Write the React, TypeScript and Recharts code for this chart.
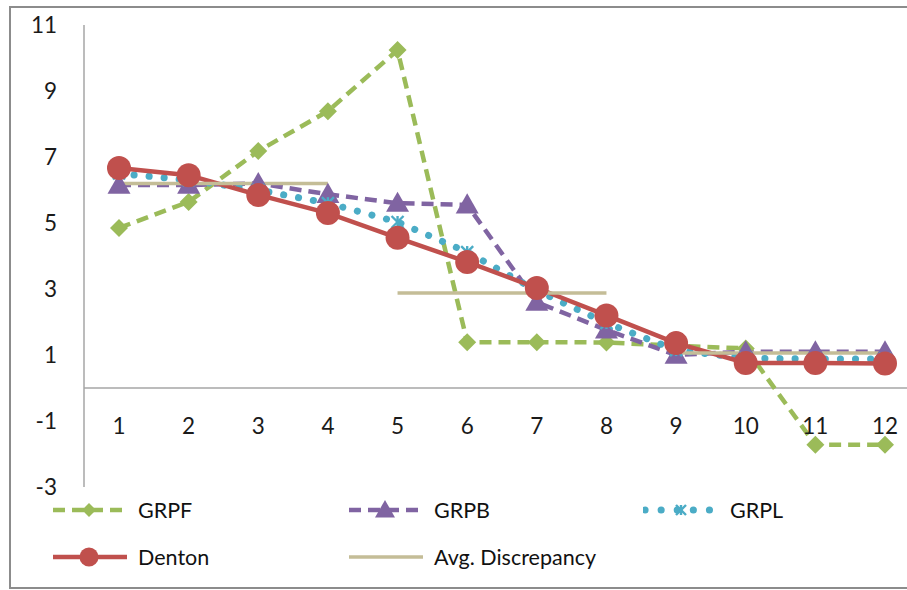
import React from 'react';
import { LineChart, Line, XAxis, YAxis, ReferenceLine } from 'recharts';

const periods = ['1', '2', '3', '4', '5', '6', '7', '8', '9', '10', '11', '12'];
const grpf = [4.85, 5.64, 7.18, 8.39, 10.24, 1.39, 1.39, 1.38, 1.28, 1.2, -1.72, -1.72];
const grpb = [6.15, 6.15, 6.2, 5.87, 5.6, 5.55, 2.6, 1.76, 1.0, 1.1, 1.1, 1.1];
const grpl = [6.5, 6.3, 6.0, 5.6, 5.03, 4.12, 2.95, 1.97, 1.15, 0.9, 0.88, 0.88];
const denton = [6.67, 6.45, 5.85, 5.3, 4.55, 3.82, 3.03, 2.2, 1.36, 0.76, 0.76, 0.74];
const avgDiscrepancy = [6.2, 6.2, 6.2, 6.2, 2.88, 2.88, 2.88, 2.88, 1.06, 1.06, 1.06, 1.06];
const avgBlock = [0, 0, 0, 0, 1, 1, 1, 1, 2, 2, 2, 2];
const yTicks = [-3, -1, 1, 3, 5, 7, 9, 11];

const FONT = 'Lato, "Open Sans", sans-serif';
const GREEN = '#9BBB59';
const PURPLE = '#8064A2';
const CYAN = '#4BACC6';
const RED = '#C0504D';
const TAN = '#C4BD97';

const data = periods.map((p, i) => ({
  period: p,
  grpf: grpf[i],
  grpb: grpb[i],
  grpl: grpl[i],
  denton: denton[i],
  avg0: avgBlock[i] === 0 ? avgDiscrepancy[i] : null,
  avg1: avgBlock[i] === 1 ? avgDiscrepancy[i] : null,
  avg2: avgBlock[i] === 2 ? avgDiscrepancy[i] : null,
}));

function Diamond({ cx, cy, s = 7 }: { cx: number; cy: number; s?: number }) {
  return <polygon points={`${cx},${cy - s} ${cx + s},${cy} ${cx},${cy + s} ${cx - s},${cy}`} fill={GREEN} />;
}

function Triangle({ cx, cy, s = 10 }: { cx: number; cy: number; s?: number }) {
  return <polygon points={`${cx},${cy - s} ${cx + s},${cy + s * 0.75} ${cx - s},${cy + s * 0.75}`} fill={PURPLE} />;
}

function Star({ cx, cy, s = 6 }: { cx: number; cy: number; s?: number }) {
  return (
    <g stroke={CYAN} strokeWidth={2.4}>
      <line x1={cx - s} y1={cy - s} x2={cx + s} y2={cy + s} />
      <line x1={cx - s} y1={cy + s} x2={cx + s} y2={cy - s} />
      <line x1={cx} y1={cy - s} x2={cx} y2={cy + s} />
    </g>
  );
}

const legendItems = [
  { name: 'GRPF', color: GREEN, dash: '12 7', width: 4.5, marker: 'diamond', col: 0, row: 0 },
  { name: 'GRPB', color: PURPLE, dash: '12 7', width: 4.5, marker: 'triangle', col: 1, row: 0 },
  { name: 'GRPL', color: CYAN, dash: '0.1 16', width: 7, marker: 'star', col: 2, row: 0 },
  { name: 'Denton', color: RED, dash: undefined, width: 4.5, marker: 'circle', col: 0, row: 1 },
  { name: 'Avg. Discrepancy', color: TAN, dash: undefined, width: 3.5, marker: 'none', col: 1, row: 1 },
];

function LegendSample({ item }: { item: typeof legendItems[number] }) {
  const cx = 38;
  const cy = 12;
  return (
    <svg width={80} height={24} style={{ display: 'block' }}>
      <line x1={2} y1={cy} x2={76} y2={cy} stroke={item.color} strokeWidth={item.width}
        strokeDasharray={item.dash} strokeLinecap={item.marker === 'star' ? 'round' : 'butt'} />
      {item.marker === 'diamond' && <Diamond cx={cx} cy={cy} s={7} />}
      {item.marker === 'triangle' && <Triangle cx={cx} cy={cy} s={10} />}
      {item.marker === 'star' && <Star cx={cx} cy={cy} s={5} />}
      {item.marker === 'circle' && <circle cx={cx} cy={cy} r={9.5} fill={RED} />}
    </svg>
  );
}

export default function App() {
  return (
    <div style={{ position: 'absolute', left: 0, top: 0, width: 907, height: 590, overflow: 'hidden', background: '#fff', fontFamily: FONT }}>
      <div style={{ position: 'absolute', left: 9, top: 6, width: 960, height: 583, border: '2px solid #8c8c8c', boxSizing: 'border-box' }} />
      <div style={{ position: 'absolute', left: 0, top: 0 }}>
        <LineChart width={940} height={590} data={data} margin={{ top: 25, right: 20, bottom: 73, left: 0 }}>
          <XAxis
            dataKey="period"
            padding={{ left: 35, right: 35 }}
            axisLine={false}
            tickLine={false}
            tickSize={0}
            interval={0}
            tick={(props: any) => (
              <text x={props.x} y={props.y - 55} textAnchor="middle" fontSize={22.5} fill="#1a1a1a" fontFamily={FONT}>
                {props.payload.value}
              </text>
            )}
          />
          <YAxis
            width={84}
            domain={[-3, 11]}
            ticks={yTicks}
            interval={0}
            axisLine={{ stroke: '#a6a6a6', strokeWidth: 1.5 }}
            tickLine={false}
            tickSize={0}
            tickMargin={27}
            tick={{ fontSize: 22.5, fill: '#1a1a1a', fontFamily: FONT }}
          />
          <ReferenceLine y={0} stroke="#a6a6a6" strokeWidth={1.5} />
          <Line dataKey="grpf" name="GRPF" stroke={GREEN} strokeWidth={4.5} strokeDasharray="12 7"
            isAnimationActive={false}
            dot={(p: any) => <Diamond key={`f${p.index}`} cx={p.cx} cy={p.cy} s={9} />} activeDot={false} />
          <Line dataKey="grpb" name="GRPB" stroke={PURPLE} strokeWidth={4.5} strokeDasharray="12 7"
            isAnimationActive={false}
            dot={(p: any) => <Triangle key={`b${p.index}`} cx={p.cx} cy={p.cy} s={11.5} />} activeDot={false} />
          <Line dataKey="grpl" name="GRPL" stroke={CYAN} strokeWidth={7} strokeDasharray="0.1 15" strokeLinecap="round"
            isAnimationActive={false}
            dot={(p: any) => <Star key={`l${p.index}`} cx={p.cx} cy={p.cy} s={6} />} activeDot={false} />
          <Line dataKey="denton" name="Denton" stroke={RED} strokeWidth={4.5}
            isAnimationActive={false}
            dot={(p: any) => <circle key={`d${p.index}`} cx={p.cx} cy={p.cy} r={12} fill={RED} />} activeDot={false} />
          {['avg0', 'avg1', 'avg2'].map((k) => (
            <Line key={k} dataKey={k} name="Avg. Discrepancy" stroke={TAN} strokeWidth={3.5}
              dot={false} activeDot={false} isAnimationActive={false} connectNulls={false} />
          ))}
        </LineChart>
      </div>
      {legendItems.map((item) => (
        <div key={item.name} style={{ position: 'absolute', left: 51 + item.col * 296, top: 498 + item.row * 47, display: 'flex', alignItems: 'center' }}>
          <LegendSample item={item} />
          <span style={{ fontSize: 21.5, color: '#111', marginLeft: 7, lineHeight: '24px' }}>{item.name}</span>
        </div>
      ))}
    </div>
  );
}
